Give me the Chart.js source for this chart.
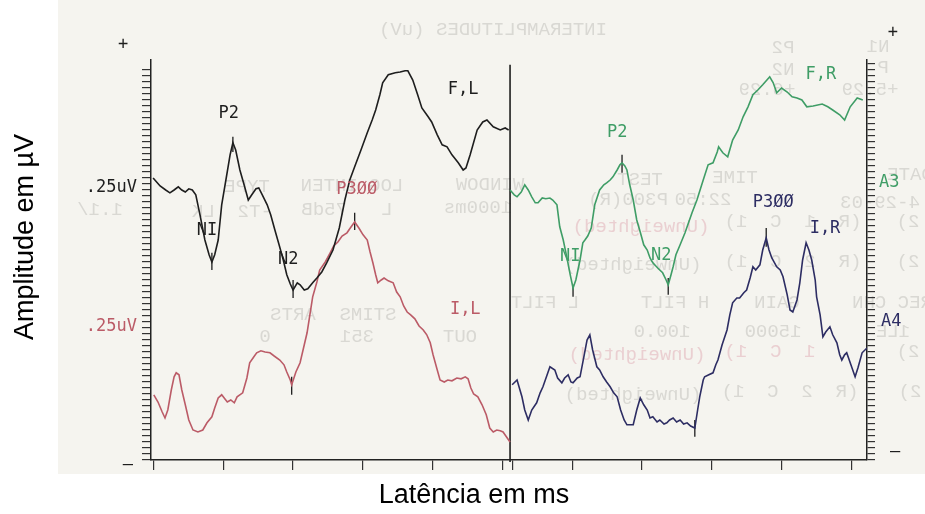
<!DOCTYPE html>
<html>
<head>
<meta charset="utf-8">
<title>P300 - potenciais evocados</title>
<script src="https://cdn.jsdelivr.net/npm/chart.js@4.4.1/dist/chart.umd.min.js"></script>
<style>
  html, body { margin: 0; padding: 0; background: #fff; }
  #wrap { position: relative; width: 925px; height: 514px; }
</style>
</head>
<body>
<div id="wrap"><canvas id="eeg" width="925" height="514"></canvas></div>
<script>
// latency in ms, amplitude in ruler units (one ruler step = 1.5)
const flLatency = [3,13,21,27,33,39,44,49,54,59,64,70,77,83,87,91,96,101,107,113,117,121,127,133,139,144,150,154,159,166,171,177,183,189,194,199,203,209,213,219,224,231,237,244,251,260,269,277,284,291,300,309,316,321,327,331,339,349,356,363,367,374,381,387,396,401,409,416,423,430,439,446,450,456,466,474,480,489,499,506,511];
const flAmplitude = [70.5,68.5,67.5,66.8,67.5,68.3,67.5,67,67.8,67.5,66.3,61.3,55,51.3,49.5,51.3,55,63.8,70,76.3,79.3,77.5,72.5,68.8,65,66.3,67.8,68,66.3,63.8,61.3,57.5,53.8,50,46.3,44,42.5,44.3,43.8,42.5,42.8,44.3,45.5,47,49.3,52.5,58,65,70,73.3,77.5,81.8,85,87.5,91.3,94.3,96.3,96.8,97,97.3,97.3,95,91.3,88,85.8,84.5,81.3,78.8,78.3,76.3,74.3,72.5,73,76.3,82.5,84.5,85,83.3,82.5,83,82.5];

const ilLatency = [4,10,16,20,24,29,33,36,40,44,49,54,60,67,74,80,87,91,96,101,109,114,119,123,131,137,141,147,151,157,163,170,176,184,190,194,199,201,207,213,219,223,227,231,237,241,249,256,261,267,273,280,286,291,297,303,309,313,317,321,324,329,333,339,346,351,356,361,366,371,377,383,389,394,399,403,409,413,419,424,430,437,443,449,453,457,461,467,473,479,484,489,494,499,503,507,513];
const ilAmplitude = [16.3,14.5,12,10.5,12.5,17.5,20.8,21.8,21.3,17.5,13.8,10,7.5,7,7.5,9.3,10.8,13,15.5,16.3,14.5,15,14.3,15.8,16.8,20.5,24.3,25.8,26.8,27.3,27,26.8,26,25,23.8,22,20,18.8,22,24.3,28.8,31.8,36.3,40.8,44.5,47.5,49.5,51.8,53.5,54.5,56,56.8,58.3,59.5,58,56.3,55,52,49.3,46.3,44.3,45,45.5,44.8,44.3,42,40.8,38.5,37,36.3,35.3,33.5,32.5,31.3,29.3,26.3,22.5,20,19.5,20,19.8,20.5,20.3,20.8,20.3,18,16.5,15.8,13.8,11.3,8,7,7.5,7.3,7,6,4.5];

const frLatency = [513,519,523,529,534,539,544,549,553,559,564,570,574,580,584,589,594,599,603,607,613,617,620,624,629,634,641,647,651,656,660,666,670,673,677,680,684,689,694,699,704,709,713,717,724,731,736,739,743,746,750,756,763,773,780,789,796,803,809,811,817,824,831,839,846,853,860,867,874,880,884,889,894,901,909,916,923,930,937,946,959,967,974,984,991,999,1009,1017];
const frAmplitude = [67.5,66.3,65.8,67,68.8,67.5,65.8,64.3,64.3,65.5,65.3,65.5,65,63.8,58.3,55,50.8,46.3,43,45,50,54.3,55,56,58,63.8,67.5,68.8,69.3,70,70.8,72.5,73.8,74.3,73.5,72.5,68.8,65,60,57,53.8,52.5,50.5,49.3,48,46.8,45,43.8,46.3,48.3,51.3,53.8,56.8,61.8,65,70,73.8,74.3,77,78.3,76.8,75.8,80,82.5,85.8,88.3,91.3,92.5,93.8,95,95.8,94.3,91.8,93,92,90.8,90.5,90,88.3,88.5,89,88.3,87.5,86.3,85,88.3,90.5,90];

const irLatency = [516,523,530,534,539,544,551,556,560,566,570,577,581,587,591,596,600,603,609,613,619,623,627,631,637,641,646,651,656,661,666,671,676,680,689,694,699,704,709,713,717,723,727,733,737,741,746,751,756,761,766,771,777,781,784,789,791,797,803,807,810,816,823,827,831,837,841,847,851,856,860,864,870,874,879,883,887,894,899,903,909,913,917,923,927,931,936,940,944,949,951,956,960,964,970,974,980,984,987,991,994,1000,1006,1010,1016,1023];
const irAmplitude = [18.8,20,15.8,12.5,10,12.5,14.3,16.8,18.3,21.3,23.3,22.5,20.5,19.3,20.5,21.3,19.5,19.3,20.5,20.8,26.3,30,31.3,27.5,23.3,22.5,20.8,19.5,18.3,16.8,15.8,12.5,10,8.8,8.8,12.5,15.5,13.8,12.5,10.5,10.8,9.5,10,9,9.3,10,10.5,9.5,10,9,9.3,8.5,8,12.5,15.8,20,20.8,21.3,21.8,23.8,25,28.8,32.5,36.3,39.3,40.5,40.5,41.8,42.5,45.5,48.3,47.5,48.8,52.5,55.5,52.5,50.5,48.3,47.5,45.8,41.3,37.5,37,40,44.3,50,54.3,52.5,50,45,40.8,36.3,30.8,32,33.3,31.3,29.3,26.3,25,26.3,26.8,23.8,20.8,23,26.8,28];

// peak marks (P2, N1, N2, P300 ...)
const markerLatency = [117, 87, 203, 291, 201, 673, 603, 739, 879, 777];
const markerTop = [80.8, 51.8, 45, 61.8, 20.8, 76.3, 43.8, 45.5, 58, 10];
const markerBottom = [77, 47.5, 40.5, 57.5, 16.3, 71.8, 40.8, 41.3, 53.3, 5.8];

const dividerLatency = 513;
const dividerRange = [-0.5, 98.8];
const xTickValues = [4, 104, 203, 303, 403, 503, 516, 603, 701, 801, 901, 1001];

const BLACK = '#1e1e1e';
const RED = '#bb5b67';
const GREEN = '#3f9d66';
const BLUE = '#2d2d63';
const GHOST = '#d9d8d3';
const GHOST_PINK = '#eacfd1';

const notes = [
  { text: 'P2', x: 111, y: 86.5, color: BLACK },
  { text: 'NI', x: 80, y: 57.3, color: BLACK },
  { text: 'N2', x: 196, y: 50, color: BLACK },
  { text: 'F,L', x: 446, y: 92.5, color: BLACK },
  { text: 'P3ØØ', x: 294, y: 67.5, color: RED },
  { text: 'I,L', x: 449, y: 37.5, color: RED },
  { text: 'P2', x: 666, y: 81.8, color: GREEN },
  { text: 'NI', x: 599, y: 50.8, color: GREEN },
  { text: 'N2', x: 729, y: 51, color: GREEN },
  { text: 'F,R', x: 957, y: 96.3, color: GREEN },
  { text: 'P3ØØ', x: 889, y: 64.3, color: BLUE },
  { text: 'I,R', x: 963, y: 57.8, color: BLUE },
  { text: '.25uV', x: -20, y: 68, color: BLACK, align: 'right' },
  { text: '.25uV', x: -20, y: 33.3, color: RED, align: 'right' },
  { text: '+', x: -40, y: 103.8, color: BLACK },
  { text: '–', x: -33, y: -1.3, color: BLACK },
  { text: '+', x: 1060, y: 106.8, color: BLACK },
  { text: '–', x: 1063, y: 1.8, color: BLACK },
  { text: 'A3', x: 1040, y: 69.3, color: GREEN, align: 'left' },
  { text: 'A4', x: 1043, y: 34.5, color: BLUE, align: 'left' }
];

// print from the back of the sheet showing through (mirrored), page pixels
const ghostText = [
  ['INTERAMPLITUDES (uV)', 493, 30, GHOST],
  ['N1', 878, 47, GHOST], ['P2', 783, 48, GHOST],
  ['P', 883, 68, GHOST], ['N2', 783, 70, GHOST],
  ['+5.29', 870, 90, GHOST], ['+6.29', 767, 90, GHOST],
  ['TYPE', 247, 187, GHOST], ['LOG INTEN', 352, 186, GHOST], ['WINDOW', 490, 185, GHOST],
  ['TEST', 640, 180, GHOST], ['TIME', 735, 178, GHOST], ['DATE', 910, 175, GHOST],
  ['1.1/', 100, 210, GHOST], ['-T2  LK', 232, 212, GHOST], ['L   75dB', 347, 210, GHOST],
  ['1000ms', 478, 208, GHOST], ['P300(R)', 628, 200, GHOST], ['22:50', 703, 200, GHOST],
  ['4-29-03', 880, 203, GHOST],
  ['(Unweighted)', 641, 227, GHOST_PINK], ['(R  1  C  1)', 793, 222, GHOST], ['2)', 908, 222, GHOST],
  ['(Unweighted)', 633, 265, GHOST], ['(R  2  C  1)', 793, 262, GHOST], ['2)', 908, 262, GHOST],
  ['ARTS', 293, 315, GHOST], ['STIMS', 368, 315, GHOST],
  ['L FILT', 545, 303, GHOST], ['H FILT', 675, 303, GHOST], ['GAIN', 777, 303, GHOST], ['REC CHN', 892, 303, GHOST],
  ['0', 265, 337, GHOST], ['351', 357, 337, GHOST], ['OUT', 460, 337, GHOST],
  ['100.0', 662, 332, GHOST], ['15000', 773, 332, GHOST], ['1LE', 893, 332, GHOST],
  ['(Unweighted)', 637, 355, GHOST_PINK], ['1  C  1)', 770, 352, GHOST_PINK], ['2)', 908, 352, GHOST],
  ['(Unweighted)', 633, 395, GHOST], ['(R  2  C  1)', 790, 392, GHOST], ['2)', 910, 392, GHOST]
];

function pairs(xs, ys) {
  return xs.map((v, i) => ({ x: v, y: ys[i] }));
}

const markerPoints = [];
markerLatency.forEach((v, i) => {
  markerPoints.push({ x: v, y: markerTop[i] }, { x: v, y: markerBottom[i] }, { x: v, y: null });
});

function trace(label, data, color) {
  return { label, data, borderColor: color, borderWidth: 1.6, pointRadius: 0, tension: 0, fill: false };
}

function ruler(last) {
  return scale => {
    const t = [];
    for (let v = 0; v <= last; v += 1.5) t.push({ value: v });
    scale.ticks = t;
  };
}

const paper = {
  id: 'paper',
  beforeDraw(chart) {
    const c = chart.ctx;
    c.save();
    c.fillStyle = '#ffffff';
    c.fillRect(0, 0, chart.width, chart.height);
    c.fillStyle = '#f5f4ef';
    c.fillRect(58, 0, chart.width - 58, 474);
    c.font = '19px "Liberation Mono", monospace';
    c.textAlign = 'center';
    c.textBaseline = 'middle';
    ghostText.forEach(([t, gx, gy, col]) => {
      c.save();
      c.translate(gx, gy);
      c.scale(-1, 1);
      c.fillStyle = col;
      c.fillText(t, 0, 0);
      c.restore();
    });
    c.restore();
  },
  afterDraw(chart) {
    const c = chart.ctx;
    const sx = chart.scales.x, sy = chart.scales.y;
    c.save();
    c.textBaseline = 'middle';
    c.font = '17px "DejaVu Sans Mono", monospace';
    notes.forEach(n => {
      c.fillStyle = n.color;
      c.textAlign = n.align || 'center';
      c.fillText(n.text, sx.getPixelForValue(n.x), sy.getPixelForValue(n.y));
    });
    c.fillStyle = '#000';
    c.textAlign = 'center';
    c.font = '27px "Liberation Sans", Arial, sans-serif';
    c.fillText('Latência em ms', 474, 496);
    c.translate(26, 237);
    c.rotate(-Math.PI / 2);
    c.fillText('Amplitude em µV', 0, 0);
    c.restore();
  }
};

new Chart(document.getElementById('eeg'), {
  type: 'line',
  data: {
    datasets: [
      trace('F,L', pairs(flLatency, flAmplitude), BLACK),
      trace('I,L', pairs(ilLatency, ilAmplitude), RED),
      trace('F,R', pairs(frLatency, frAmplitude), GREEN),
      trace('I,R', pairs(irLatency, irAmplitude), BLUE),
      { label: 'marks', data: markerPoints, borderColor: BLACK, borderWidth: 1.3, pointRadius: 0, spanGaps: false },
      { label: 'divider', data: [{ x: dividerLatency, y: dividerRange[0] }, { x: dividerLatency, y: dividerRange[1] }],
        borderColor: BLACK, borderWidth: 1.6, pointRadius: 0, clip: false }
    ]
  },
  options: {
    responsive: false,
    animation: false,
    layout: { padding: { left: 142, right: 50, top: 60, bottom: 44 } },
    plugins: { legend: { display: false }, tooltip: { enabled: false } },
    scales: {
      x: {
        type: 'linear', position: 'bottom', min: 0, max: 1023,
        ticks: { display: false },
        grid: { drawOnChartArea: false, drawTicks: true, tickLength: 10, color: '#333', lineWidth: 1.2 },
        border: { display: true, color: '#222', width: 1.5 },
        afterBuildTicks: s => { s.ticks = xTickValues.map(v => ({ value: v })); },
        afterFit: s => { s.height = 10; }
      },
      y: {
        type: 'linear', position: 'left', min: 0, max: 100,
        ticks: { display: false },
        grid: { drawOnChartArea: false, drawTicks: true, tickLength: 9, color: '#333', lineWidth: 1.2 },
        border: { display: true, color: '#222', width: 1.5 },
        afterBuildTicks: ruler(97.6),
        afterFit: s => { s.width = 9; }
      },
      y2: {
        type: 'linear', position: 'right', min: 0, max: 100,
        ticks: { display: false },
        grid: { drawOnChartArea: false, drawTicks: true, tickLength: 8, color: '#333', lineWidth: 1.2 },
        border: { display: true, color: '#222', width: 1.5 },
        afterBuildTicks: ruler(100),
        afterFit: s => { s.width = 8; }
      }
    }
  },
  plugins: [paper]
});
</script>
</body>
</html>
